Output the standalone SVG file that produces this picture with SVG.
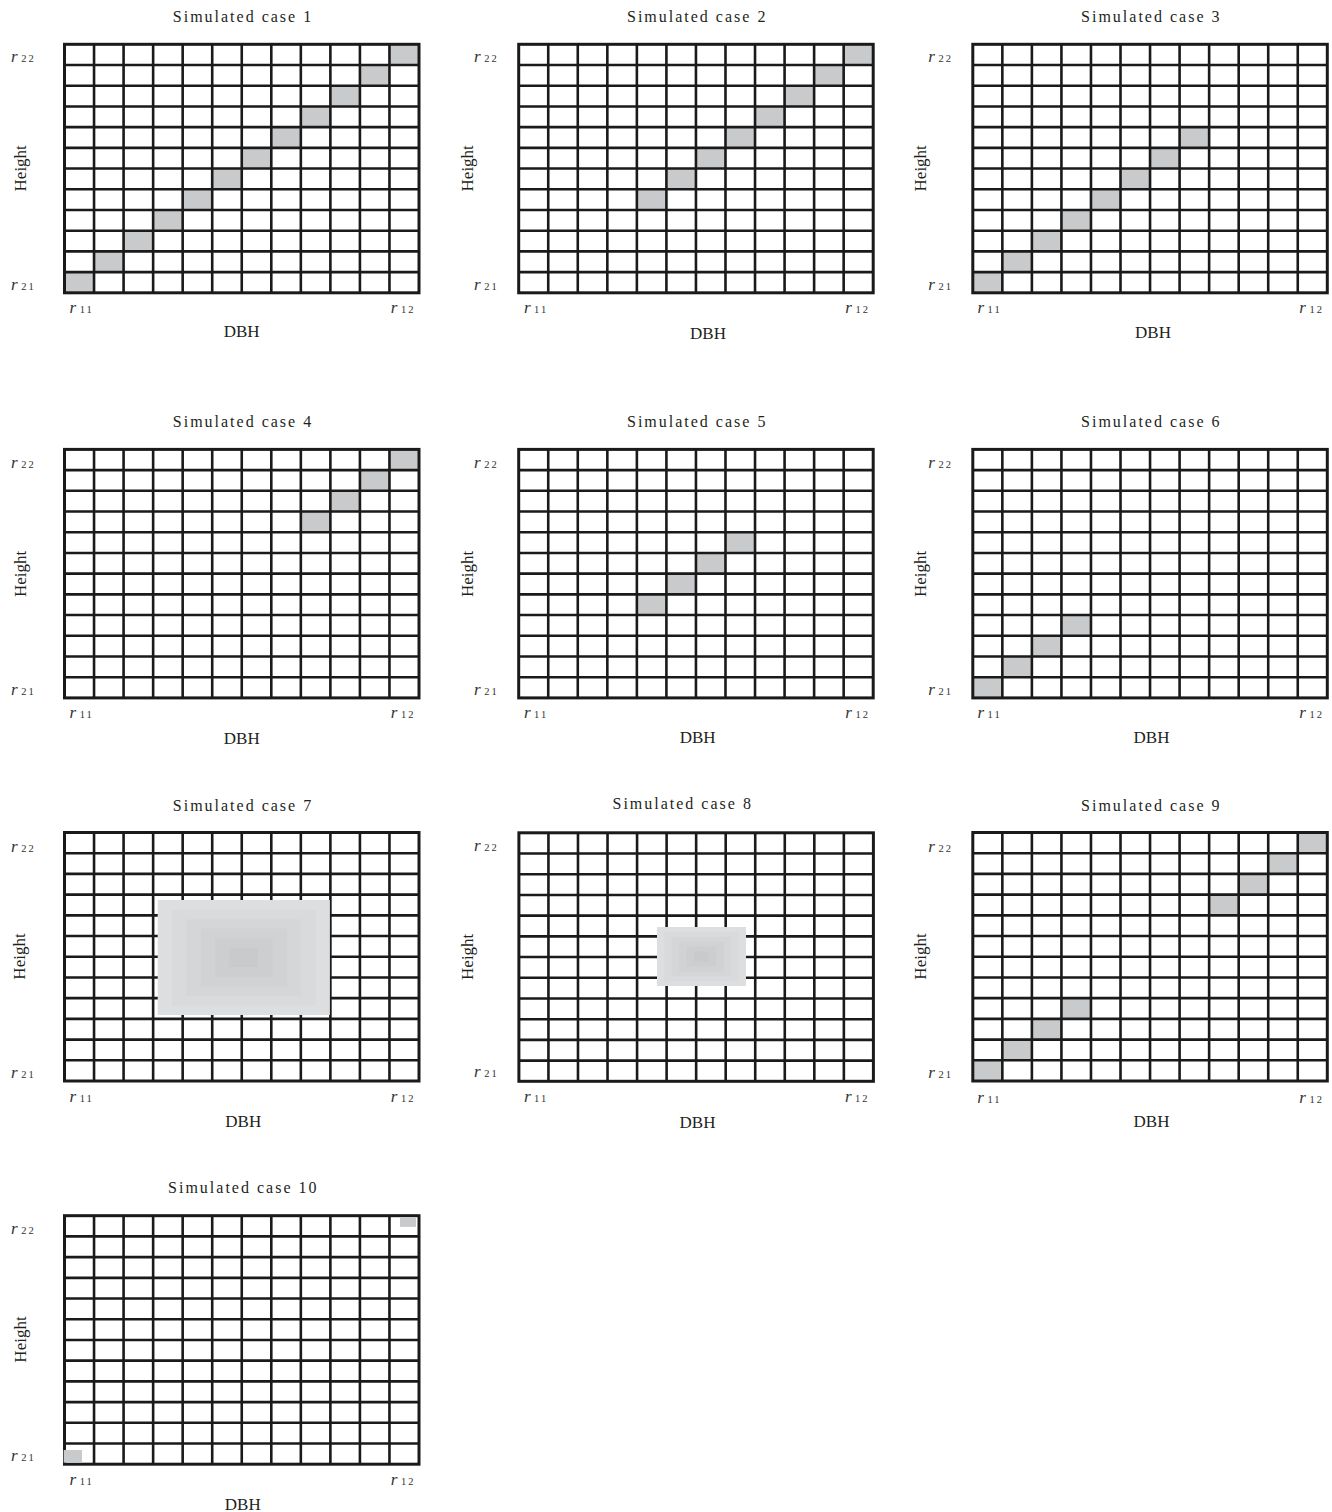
<svg xmlns="http://www.w3.org/2000/svg" xmlns:xlink="http://www.w3.org/1999/xlink" width="1332" height="1512" viewBox="0 0 1332 1512">
<style>
  text { font-family: "Liberation Serif", "Times New Roman", serif; fill: #231f20; }
  .title { font-size: 16px; letter-spacing: 2px; text-anchor: middle; }
  .ax { font-size: 17px; text-anchor: middle; }
  .r { font-size: 17px; font-style: italic; fill: #333; }
  .sub { font-size: 10.5px; font-style: normal; letter-spacing: 2px; fill: #333; }
  .sh { fill: #c9cacc; }
  .gl { fill: none; stroke: #1a1a1a; stroke-width: 2.6; }
  .gb { fill: none; stroke: #1a1a1a; stroke-width: 3; }
</style>
<defs>
  <rect id="c" width="29.54" height="20.71" class="sh"/>
  <g id="grid">
    <path class="gl" d="M29.54 0V248.5M59.08 0V248.5M88.63 0V248.5M118.17 0V248.5M147.71 0V248.5M177.25 0V248.5M206.79 0V248.5M236.33 0V248.5M265.88 0V248.5M295.42 0V248.5M324.96 0V248.5M0 20.71H354.5M0 41.42H354.5M0 62.13H354.5M0 82.83H354.5M0 103.54H354.5M0 124.25H354.5M0 144.96H354.5M0 165.67H354.5M0 186.38H354.5M0 207.08H354.5M0 227.79H354.5"/>
    <rect class="gb" x="0" y="0" width="354.5" height="248.5"/>
  </g>
</defs>

<g id="panel1" transform="translate(64.5,44.3)">
  <text class="title" x="178.5" y="-22">Simulated case 1</text>
  <use href="#c" x="0" y="227.79"/><use href="#c" x="29.54" y="207.08"/><use href="#c" x="59.08" y="186.38"/><use href="#c" x="88.63" y="165.67"/><use href="#c" x="118.17" y="144.96"/><use href="#c" x="147.71" y="124.25"/><use href="#c" x="177.25" y="103.54"/><use href="#c" x="206.79" y="82.83"/><use href="#c" x="236.33" y="62.13"/><use href="#c" x="265.88" y="41.42"/><use href="#c" x="295.42" y="20.71"/><use href="#c" x="324.96" y="0"/>
  <use href="#grid"/>
  <text class="r" x="-53.5" y="18">r<tspan class="sub" dx="3.5">22</tspan></text>
  <text class="r" x="-53.5" y="245.6">r<tspan class="sub" dx="3.5">21</tspan></text>
  <text class="r" x="5" y="268.8">r<tspan class="sub" dx="3.5">11</tspan></text>
  <text class="r" x="326.3" y="268.8">r<tspan class="sub" dx="3.5">12</tspan></text>
  <text class="ax" transform="translate(-38.5,124) rotate(-90)">Height</text>
  <text class="ax" x="177.2" y="292.7">DBH</text>
</g>

<g id="panel2" transform="translate(518.7,44.3)">
  <text class="title" x="178.5" y="-22">Simulated case 2</text>
  <use href="#c" x="118.17" y="144.96"/><use href="#c" x="147.71" y="124.25"/><use href="#c" x="177.25" y="103.54"/><use href="#c" x="206.79" y="82.83"/><use href="#c" x="236.33" y="62.13"/><use href="#c" x="265.88" y="41.42"/><use href="#c" x="295.42" y="20.71"/><use href="#c" x="324.96" y="0"/>
  <use href="#grid"/>
  <text class="r" x="-44.6" y="18">r<tspan class="sub" dx="3.5">22</tspan></text>
  <text class="r" x="-44.6" y="245.6">r<tspan class="sub" dx="3.5">21</tspan></text>
  <text class="r" x="5.3" y="268.8">r<tspan class="sub" dx="3.5">11</tspan></text>
  <text class="r" x="326.6" y="268.8">r<tspan class="sub" dx="3.5">12</tspan></text>
  <text class="ax" transform="translate(-45.4,124) rotate(-90)">Height</text>
  <text class="ax" x="189.3" y="295">DBH</text>
</g>

<g id="panel3" transform="translate(972.8,44.3)">
  <text class="title" x="178.5" y="-22">Simulated case 3</text>
  <use href="#c" x="0" y="227.79"/><use href="#c" x="29.54" y="207.08"/><use href="#c" x="59.08" y="186.38"/><use href="#c" x="88.63" y="165.67"/><use href="#c" x="118.17" y="144.96"/><use href="#c" x="147.71" y="124.25"/><use href="#c" x="177.25" y="103.54"/><use href="#c" x="206.79" y="82.83"/>
  <use href="#grid"/>
  <text class="r" x="-44.5" y="18">r<tspan class="sub" dx="3.5">22</tspan></text>
  <text class="r" x="-44.5" y="245.6">r<tspan class="sub" dx="3.5">21</tspan></text>
  <text class="r" x="4.7" y="268.8">r<tspan class="sub" dx="3.5">11</tspan></text>
  <text class="r" x="326.5" y="268.8">r<tspan class="sub" dx="3.5">12</tspan></text>
  <text class="ax" transform="translate(-46.8,124) rotate(-90)">Height</text>
  <text class="ax" x="180.2" y="294">DBH</text>
</g>

<g id="panel4" transform="translate(64.5,449.4)">
  <text class="title" x="178.5" y="-22">Simulated case 4</text>
  <use href="#c" x="236.33" y="62.13"/><use href="#c" x="265.88" y="41.42"/><use href="#c" x="295.42" y="20.71"/><use href="#c" x="324.96" y="0"/>
  <use href="#grid"/>
  <text class="r" x="-53.5" y="18.3">r<tspan class="sub" dx="3.5">22</tspan></text>
  <text class="r" x="-53.5" y="245.6">r<tspan class="sub" dx="3.5">21</tspan></text>
  <text class="r" x="5" y="268.9">r<tspan class="sub" dx="3.5">11</tspan></text>
  <text class="r" x="326.3" y="268.9">r<tspan class="sub" dx="3.5">12</tspan></text>
  <text class="ax" transform="translate(-38.5,124.5) rotate(-90)">Height</text>
  <text class="ax" x="177.3" y="294.9">DBH</text>
</g>

<g id="panel5" transform="translate(518.7,449.4)">
  <text class="title" x="178.5" y="-22">Simulated case 5</text>
  <use href="#c" x="118.17" y="144.96"/><use href="#c" x="147.71" y="124.25"/><use href="#c" x="177.25" y="103.54"/><use href="#c" x="206.79" y="82.83"/>
  <use href="#grid"/>
  <text class="r" x="-44.6" y="18.3">r<tspan class="sub" dx="3.5">22</tspan></text>
  <text class="r" x="-44.6" y="245.6">r<tspan class="sub" dx="3.5">21</tspan></text>
  <text class="r" x="5.3" y="268.9">r<tspan class="sub" dx="3.5">11</tspan></text>
  <text class="r" x="326.6" y="268.9">r<tspan class="sub" dx="3.5">12</tspan></text>
  <text class="ax" transform="translate(-46,124.5) rotate(-90)">Height</text>
  <text class="ax" x="179" y="293.9">DBH</text>
</g>

<g id="panel6" transform="translate(972.8,449.4)">
  <text class="title" x="178.5" y="-22">Simulated case 6</text>
  <use href="#c" x="0" y="227.79"/><use href="#c" x="29.54" y="207.08"/><use href="#c" x="59.08" y="186.38"/><use href="#c" x="88.63" y="165.67"/>
  <use href="#grid"/>
  <text class="r" x="-44.5" y="18.3">r<tspan class="sub" dx="3.5">22</tspan></text>
  <text class="r" x="-44.5" y="245.6">r<tspan class="sub" dx="3.5">21</tspan></text>
  <text class="r" x="4.7" y="268.9">r<tspan class="sub" dx="3.5">11</tspan></text>
  <text class="r" x="326.5" y="268.9">r<tspan class="sub" dx="3.5">12</tspan></text>
  <text class="ax" transform="translate(-46.8,124.5) rotate(-90)">Height</text>
  <text class="ax" x="178.7" y="293.9">DBH</text>
</g>

<g id="panel7" transform="translate(64.5,832.5)">
  <text class="title" x="178.5" y="-21.8">Simulated case 7</text>
  <use href="#grid"/>
  <g transform="translate(179.3,125)">
    <rect x="-86.1" y="-57.5" width="172.2" height="115" fill="#dddee0"/>
    <rect x="-71.8" y="-47.9" width="143.6" height="95.8" fill="#d9dadc"/>
    <rect x="-57.4" y="-38.3" width="114.8" height="76.6" fill="#d5d6d8"/>
    <rect x="-43" y="-28.8" width="86" height="57.6" fill="#d1d2d4"/>
    <rect x="-28.7" y="-19.2" width="57.4" height="38.4" fill="#cdced0"/>
    <rect x="-14.3" y="-9.6" width="28.6" height="19.2" fill="#c9cacc"/>
  </g>
  <text class="r" x="-53.5" y="19.2">r<tspan class="sub" dx="3.5">22</tspan></text>
  <text class="r" x="-53.5" y="245.2">r<tspan class="sub" dx="3.5">21</tspan></text>
  <text class="r" x="5" y="269.2">r<tspan class="sub" dx="3.5">11</tspan></text>
  <text class="r" x="326.3" y="269.2">r<tspan class="sub" dx="3.5">12</tspan></text>
  <text class="ax" transform="translate(-39.5,124) rotate(-90)">Height</text>
  <text class="ax" x="178.8" y="294.2">DBH</text>
</g>

<g id="panel8" transform="translate(518.9,832.8)">
  <text class="title" x="163.8" y="-23.5">Simulated case 8</text>
  <use href="#grid"/>
  <g transform="translate(182.6,123.7)">
    <rect x="-44.5" y="-29.5" width="89" height="59" fill="#dddee0"/>
    <rect x="-37.1" y="-24.6" width="74.2" height="49.2" fill="#d9dadc"/>
    <rect x="-29.7" y="-19.7" width="59.4" height="39.4" fill="#d5d6d8"/>
    <rect x="-22.3" y="-14.8" width="44.6" height="29.6" fill="#d1d2d4"/>
    <rect x="-14.8" y="-9.8" width="29.6" height="19.6" fill="#cdced0"/>
    <rect x="-7.4" y="-4.9" width="14.8" height="9.8" fill="#c9cacc"/>
  </g>
  <text class="r" x="-44.9" y="17.9">r<tspan class="sub" dx="3.5">22</tspan></text>
  <text class="r" x="-44.9" y="243.9">r<tspan class="sub" dx="3.5">21</tspan></text>
  <text class="r" x="5.1" y="268.9">r<tspan class="sub" dx="3.5">11</tspan></text>
  <text class="r" x="326.1" y="268.9">r<tspan class="sub" dx="3.5">12</tspan></text>
  <text class="ax" transform="translate(-46.2,124) rotate(-90)">Height</text>
  <text class="ax" x="178.6" y="295.5">DBH</text>
</g>

<g id="panel9" transform="translate(972.8,832.5)">
  <text class="title" x="178.5" y="-21.8">Simulated case 9</text>
  <use href="#c" x="0" y="227.79"/><use href="#c" x="29.54" y="207.08"/><use href="#c" x="59.08" y="186.38"/><use href="#c" x="88.63" y="165.67"/>
  <use href="#c" x="236.33" y="62.13"/><use href="#c" x="265.88" y="41.42"/><use href="#c" x="295.42" y="20.71"/><use href="#c" x="324.96" y="0"/>
  <use href="#grid"/>
  <text class="r" x="-44.5" y="19.2">r<tspan class="sub" dx="3.5">22</tspan></text>
  <text class="r" x="-44.5" y="245.2">r<tspan class="sub" dx="3.5">21</tspan></text>
  <text class="r" x="4.5" y="270.2">r<tspan class="sub" dx="3.5">11</tspan></text>
  <text class="r" x="326.5" y="270.2">r<tspan class="sub" dx="3.5">12</tspan></text>
  <text class="ax" transform="translate(-46.8,124) rotate(-90)">Height</text>
  <text class="ax" x="178.7" y="294.2">DBH</text>
</g>

<g id="panel10" transform="translate(64.5,1215.7)">
  <text class="title" x="178.8" y="-22.4">Simulated case 10</text>
  <use href="#grid"/>
  <rect class="sh" x="335.5" y="1.6" width="16" height="9.6"/>
  <rect class="sh" x="-0.8" y="234.3" width="18.3" height="12.7"/>
  <text class="r" x="-53.5" y="18.3">r<tspan class="sub" dx="3.5">22</tspan></text>
  <text class="r" x="-53.5" y="245">r<tspan class="sub" dx="3.5">21</tspan></text>
  <text class="r" x="5" y="269.3">r<tspan class="sub" dx="3.5">11</tspan></text>
  <text class="r" x="326.3" y="269.3">r<tspan class="sub" dx="3.5">12</tspan></text>
  <text class="ax" transform="translate(-38.5,123.8) rotate(-90)">Height</text>
  <text class="ax" x="178.3" y="294.3">DBH</text>
</g>
</svg>
